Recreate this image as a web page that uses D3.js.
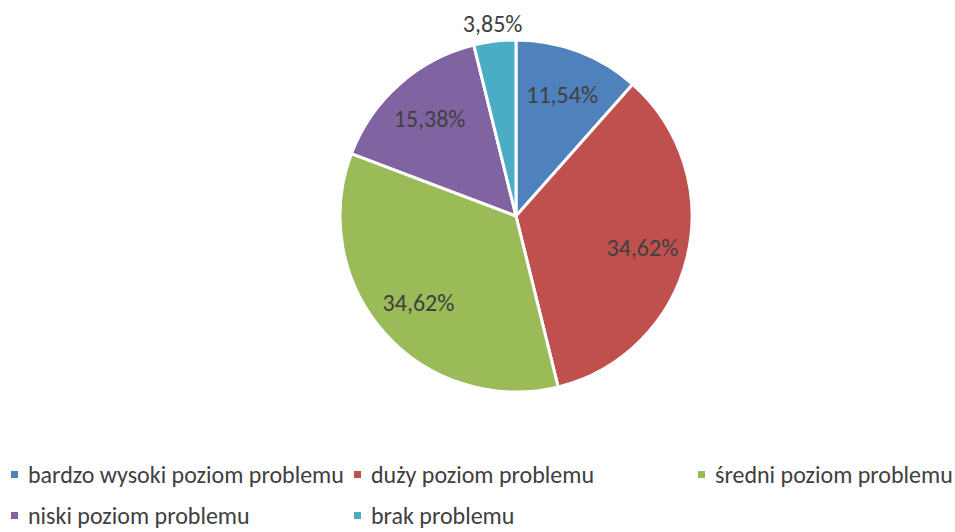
<!DOCTYPE html>
<html>
<head>
<meta charset="utf-8">
<script src="https://cdn.jsdelivr.net/npm/d3@7"></script>
<style>
  body { margin: 0; background: #fff; }
  text { font-family: Carlito, Lato, "Open Sans", sans-serif; fill: #404040; }
</style>
</head>
<body>
<svg id="chart" width="955" height="532"></svg>
<script>
// data
const categories = ["bardzo wysoki poziom problemu", "duży poziom problemu", "średni poziom problemu", "niski poziom problemu", "brak problemu"];
const values = [11.54, 34.62, 34.62, 15.38, 3.85];
const labels = ["11,54%", "34,62%", "34,62%", "15,38%", "3,85%"];
const colors = ["#4F81BD", "#C0504D", "#9BBB59", "#8064A2", "#4BACC6"];

const svg = d3.select("#chart");
const cx = 516, cy = 216, radius = 176;

const pie = d3.pie().sort(null).value(d => d)(values);
const arc = d3.arc().innerRadius(0).outerRadius(radius);
const labelArc = d3.arc().innerRadius(radius * 0.74).outerRadius(radius * 0.74);
const outArc = d3.arc().innerRadius(radius * 1.1).outerRadius(radius * 1.1);

const g = svg.append("g").attr("transform", `translate(${cx},${cy})`);

g.selectAll(".slice")
    .data(pie)
    .enter().append("path")
    .attr("class", "slice")
    .attr("d", arc)
    .attr("fill", (d, i) => colors[i])
    .attr("stroke", "#fff")
    .attr("stroke-width", 3)
    .attr("stroke-linejoin", "round");

// small slices get their label outside
g.selectAll(".label")
    .data(pie)
    .enter().append("text")
    .attr("class", "label")
    .attr("transform", d => {
        const c = (d.endAngle - d.startAngle) < 0.3 ? outArc.centroid(d) : labelArc.centroid(d);
        return `translate(${c[0]},${c[1]})`;
    })
    .attr("text-anchor", "middle")
    .attr("dy", "0.35em")
    .style("font-size", "24px")
    .text((d, i) => labels[i]);

// legend, 3 per row
const colX = [11, 354, 698];
const rowY = [475, 516];
const legend = svg.selectAll(".legend")
    .data(categories)
    .enter().append("g")
    .attr("class", "legend")
    .attr("transform", (d, i) => `translate(${colX[i % 3]},${rowY[Math.floor(i / 3)]})`);

legend.append("rect")
    .attr("x", 0).attr("y", -4)
    .attr("width", 7).attr("height", 7)
    .attr("fill", (d, i) => colors[i]);

legend.append("text")
    .attr("x", 17)
    .attr("dy", "0.35em")
    .style("font-size", "24px")
    .text(d => d);
</script>
</body>
</html>
